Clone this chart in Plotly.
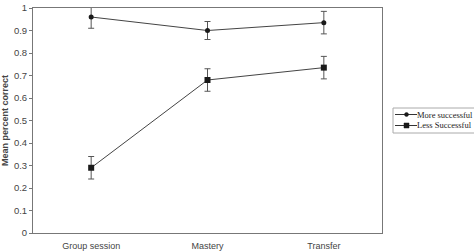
import plotly.graph_objects as go

categories = ["Group session", "Mastery", "Transfer"]
more_vals = [0.96, 0.90, 0.935]
more_err = [0.05, 0.04, 0.05]
less_vals = [0.29, 0.68, 0.735]
less_err = [0.05, 0.05, 0.05]
y_ticks = [0, 0.1, 0.2, 0.3, 0.4, 0.5, 0.6, 0.7, 0.8, 0.9, 1]
legend_names = ["More successful", "Less Successful"]

W, H = 474, 252
L, R, T, B = 33, 92, 8, 19
PW, PH = W - L - R, H - T - B


def px(x):
    return (x - L) / PW


def py(y):
    return (H - B - y) / PH


fig = go.Figure()
fig.add_trace(go.Scatter(
    x=categories, y=more_vals, name=legend_names[0], mode="lines+markers",
    line=dict(color="#444444", width=1),
    marker=dict(symbol="circle", size=5, color="#1a1a1a"),
    error_y=dict(type="data", array=more_err, color="#555555", thickness=1, width=3),
))
fig.add_trace(go.Scatter(
    x=categories, y=less_vals, name=legend_names[1], mode="lines+markers",
    line=dict(color="#444444", width=1),
    marker=dict(symbol="square", size=6, color="#1a1a1a"),
    error_y=dict(type="data", array=less_err, color="#555555", thickness=1, width=3),
))

# manual legend (drawn outside the plot without shrinking it)
shapes = [dict(type="rect", xref="paper", yref="paper",
               x0=px(393), x1=px(490), y0=py(133), y1=py(108),
               line=dict(color="#aaaaaa", width=1), fillcolor="white", layer="above")]
annotations = []
for i, name in enumerate(legend_names):
    yy = 114.5 + 11 * i
    shapes.append(dict(type="line", xref="paper", yref="paper",
                       x0=px(395), x1=px(417), y0=py(yy), y1=py(yy),
                       line=dict(color="#333333", width=1)))
    if i == 0:
        shapes.append(dict(type="circle", xref="paper", yref="paper",
                           x0=px(404.5), x1=px(408.5), y0=py(yy + 2), y1=py(yy - 2),
                           fillcolor="#1a1a1a", line=dict(color="#1a1a1a", width=0.5)))
    else:
        shapes.append(dict(type="rect", xref="paper", yref="paper",
                           x0=px(404), x1=px(409), y0=py(yy + 2.5), y1=py(yy - 2.5),
                           fillcolor="#1a1a1a", line=dict(color="#1a1a1a", width=0.5)))
    annotations.append(dict(text=name, xref="paper", yref="paper",
                            x=px(416), y=py(yy), xanchor="left", yanchor="middle",
                            showarrow=False, borderpad=0,
                            font=dict(family="Liberation Serif", size=8.5, color="#222222")))

fig.update_layout(
    width=W, height=H,
    margin=dict(l=L, r=R, t=T, b=B),
    paper_bgcolor="white", plot_bgcolor="white",
    showlegend=False,
    shapes=shapes, annotations=annotations,
    font=dict(family="Liberation Sans", size=9, color="#444444"),
)
fig.update_xaxes(
    range=[-0.5, 2.5], automargin=False,
    showline=True, linecolor="#777777", linewidth=1, mirror=True,
    showgrid=False, ticks="", tickson="boundaries",
    ticklabelstandoff=4,
    tickfont=dict(size=9, color="#444444"),
)
fig.update_yaxes(
    range=[0, 1], tickvals=y_ticks, ticktext=[f"{v:g}" for v in y_ticks],
    automargin=False,
    showline=True, linecolor="#777777", linewidth=1, mirror=True,
    showgrid=False, ticks="outside", ticklen=3, tickcolor="#777777",
    zeroline=False,
    tickfont=dict(size=9.5, color="#444444"),
    title=dict(text="<b>Mean percent correct</b>", font=dict(size=9, color="#444444"), standoff=6),
)
fig.write_html("out.html")
